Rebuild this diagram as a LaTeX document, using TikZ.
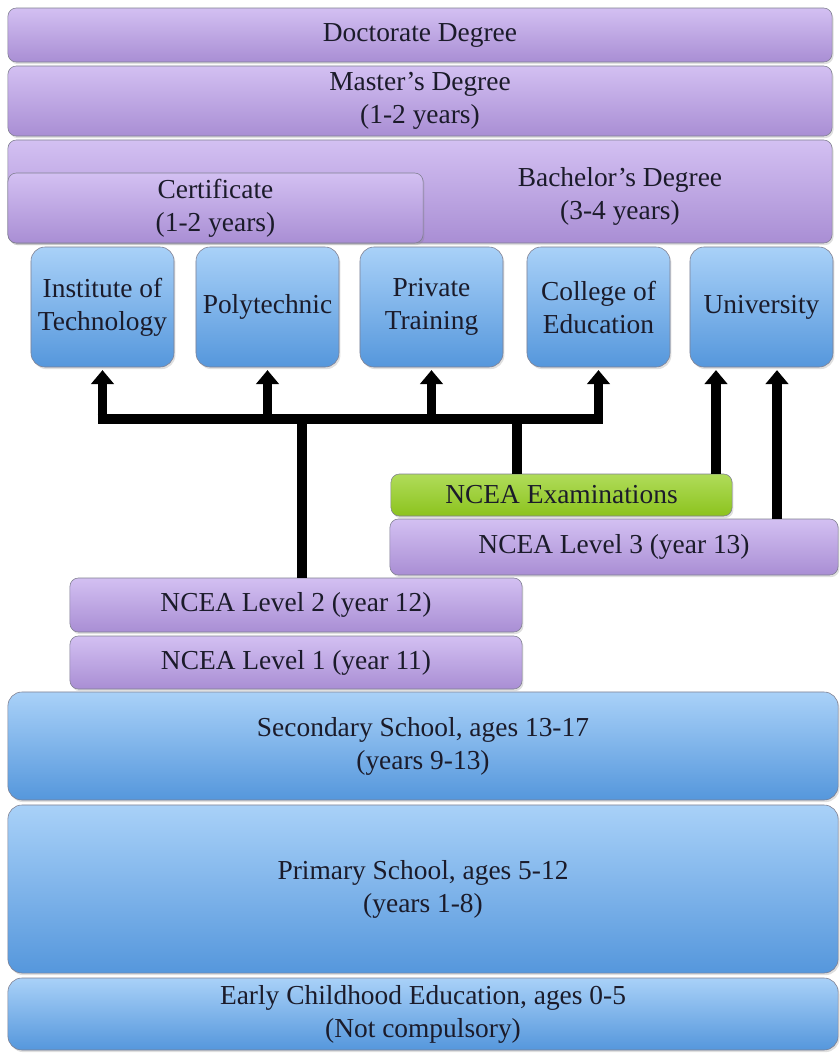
\documentclass[tikz,border=0pt]{standalone}
\usepackage{fontspec}
\setmainfont{Liberation Serif}
\usepackage{tikz}
\usetikzlibrary{arrows.meta, shadows, calc}
\definecolor{purptop}{HTML}{D3C0F2}
\definecolor{purpbot}{HTML}{A98ED4}
\definecolor{bluetop}{HTML}{A9D1F8}
\definecolor{bluebot}{HTML}{5597DC}
\definecolor{greentop}{HTML}{B0DC5A}
\definecolor{greenbot}{HTML}{8CC31E}
\definecolor{edgegrey}{HTML}{7F7F90}
\definecolor{inkdark}{HTML}{1B1B2A}

\begin{document}
\begin{tikzpicture}[
        x=0.025cm, y=-0.025cm,
        font=\fontsize{19.5}{23.5}\selectfont,
        text=inkdark,
        level/.style={rectangle, draw=edgegrey, thin, top color=purptop, bottom color=purpbot, rounded corners=6pt, align=center, inner sep=0pt,
            drop shadow={opacity=0.25, shadow xshift=1pt, shadow yshift=-1.5pt}},
        school/.style={level, top color=bluetop, bottom color=bluebot, rounded corners=10pt},
        inst/.style={school, minimum width=3.575cm, minimum height=3cm},
        exam/.style={level, top color=greentop, bottom color=greenbot},
        bar/.style={draw, line width=7pt, color=black},
        flow/.style={bar, -{Triangle[width=16pt, length=10pt]}, shorten >=2pt}
    ]
        \useasboundingbox (0,0) rectangle (840,1055);

        % Degrees (top)
        \node [level, minimum width=20.6cm, minimum height=1.35cm] (phd) at (420,35) {Doctorate Degree};
        \node [level, minimum width=20.6cm, minimum height=1.75cm] (master) at (420,101) {Master's Degree\\(1-2 years)};
        \node [level, minimum width=20.6cm, minimum height=2.575cm] (bach) at (420,191.5) {};
        \node (bachtext) at (620,196) [align=center] {Bachelor's Degree\\(3-4 years)};
        \node [level, minimum width=10.375cm, minimum height=1.75cm] (cert) at (215.5,208) {Certificate\\(1-2 years)};

        % Institutions
        \node [inst] (ito) at (102.5,307) {Institute of\\Technology};
        \node [inst] (poly) at (267.5,307) {Polytechnic};
        \node [inst] (pte) at (431.5,307) {Private\\Training};
        \node [inst] (coe) at (598.5,307) {College of\\Education};
        \node [inst] (uni) at (761.5,307) {University};

        % NCEA levels
        \node [exam, minimum width=8.525cm, minimum height=1.05cm] (ncea) at (561.5,495) {NCEA Examinations};
        \node [level, minimum width=11.2cm, minimum height=1.4cm] (lvl3) at (614,547) {NCEA Level 3 (year 13)};
        \node [level, minimum width=11.3cm, minimum height=1.35cm] (lvl2) at (296,605) {NCEA Level 2 (year 12)};
        \node [level, minimum width=11.3cm, minimum height=1.325cm] (lvl1) at (296,662.5) {NCEA Level 1 (year 11)};

        % Schools (bottom)
        \node [school, minimum width=20.75cm, minimum height=2.7cm] (sec) at (423,746) {Secondary School, ages 13-17\\(years 9-13)};
        \node [school, minimum width=20.75cm, minimum height=4.2cm] (prim) at (423,889) {Primary School, ages 5-12\\(years 1-8)};
        \node [school, minimum width=20.75cm, minimum height=1.8cm] (ece) at (423,1014) {Early Childhood Education, ages 0-5\\(Not compulsory)};

        % Connections
        \coordinate (hub) at (302,419);
        \coordinate (hub2) at (517,419);
        \coordinate (u1) at (716,0);
        \coordinate (u2) at (777,0);
        \draw [bar] (lvl2.north -| hub) -- (hub);
        \draw [bar] (ncea.north -| hub2) -- (hub2);
        \draw [bar] ([xshift=-3.5pt]hub -| ito.south) -- ([xshift=3.5pt]hub -| coe.south);
        \foreach \dest in {ito, poly, pte, coe}
            \draw [flow] (hub -| \dest.south) -- (\dest.south);

        % Paths into University
        \draw [flow] (ncea.north -| u1) -- (uni.south -| u1);
        \draw [flow] (lvl3.north -| u2) -- (uni.south -| u2);
    \end{tikzpicture}
\end{document}
